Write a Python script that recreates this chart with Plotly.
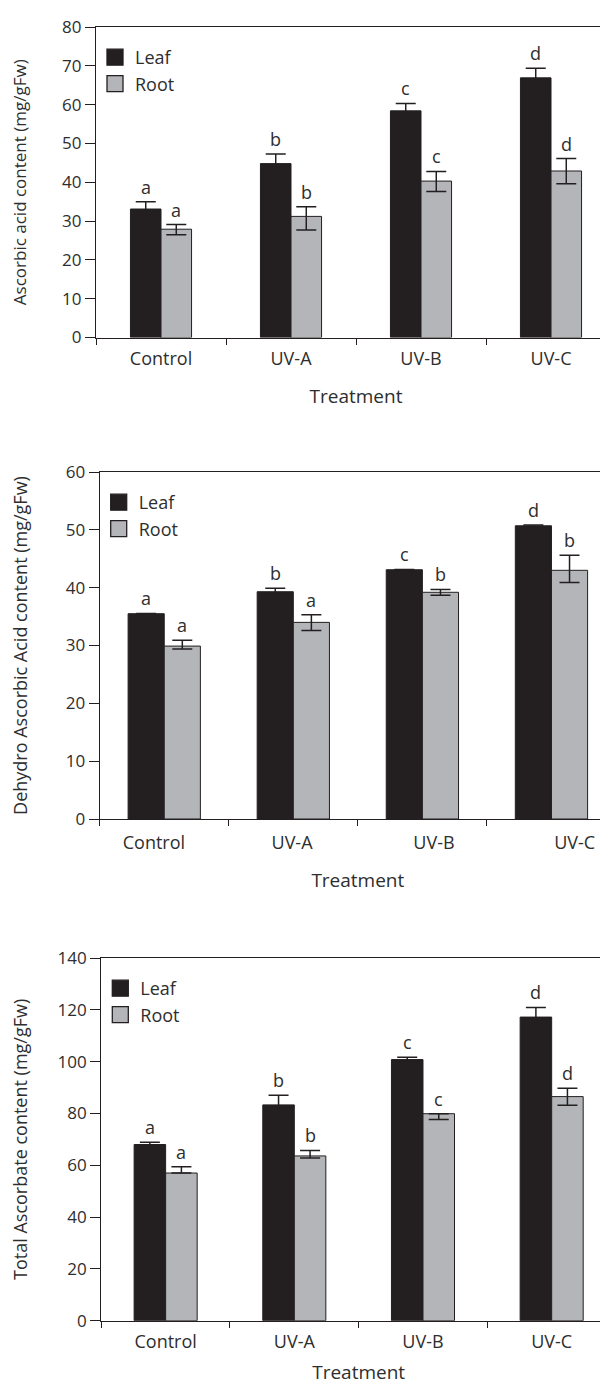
import plotly.graph_objects as go

# ---------------- data ----------------
categories = ["Control", "UV-A", "UV-B", "UV-C"]

# Panel 1: Ascorbic acid
asa_leaf = [33.1, 44.8, 58.4, 66.9]
asa_leaf_err = [1.9, 2.5, 1.9, 2.5]
asa_root = [27.9, 31.2, 40.3, 42.9]
asa_root_err_plus = [1.2, 2.5, 2.5, 3.2]
asa_root_err_minus = [1.4, 3.5, 2.7, 3.3]
asa_leaf_letters = ["a", "b", "c", "d"]
asa_root_letters = ["a", "b", "c", "d"]

# Panel 2: Dehydro ascorbic acid
dha_leaf = [35.5, 39.3, 43.1, 50.7]
dha_leaf_err = [0.05, 0.6, 0.05, 0.15]
dha_root = [29.9, 34.0, 39.2, 43.0]
dha_root_err_plus = [1.0, 1.3, 0.5, 2.6]
dha_root_err_minus = [0.5, 1.4, 0.5, 2.1]
dha_leaf_letters = ["a", "b", "c", "d"]
dha_root_letters = ["a", "a", "b", "b"]

# Panel 3: Total ascorbate
tas_leaf = [68.0, 83.3, 100.8, 117.2]
tas_leaf_err = [0.9, 3.7, 0.9, 3.7]
tas_root = [57.0, 63.6, 79.9, 86.5]
tas_root_err_plus = [2.4, 2.1, 0.0, 3.2]
tas_root_err_minus = [0.0, 0.8, 2.2, 3.3]
tas_leaf_letters = ["a", "b", "c", "d"]
tas_root_letters = ["a", "b", "c", "d"]

# ---------------- style ----------------
W, H = 608, 1387
INK = "#231f20"
TXT = "#2e2e2e"
LEAF = "#231f20"
ROOT = "#b3b5b8"
FONT = "Open Sans"
# in the original, panel 2's category labels sit slightly off the bar centres
panel2_label_pos = [-0.08, 0.99, 2.09, 3.18]

panels = [
    dict(leaf=asa_leaf, leaf_err=asa_leaf_err, root=asa_root,
         rp=asa_root_err_plus, rm=asa_root_err_minus,
         ll=asa_leaf_letters, rl=asa_root_letters,
         ytitle="Ascorbic acid content (mg/gFw)", ymax=80, dtick=10,
         left=88, top=19, bottom=329.5, bw=0.235, tfs=17, tso=33, xso=20),
    dict(leaf=dha_leaf, leaf_err=dha_leaf_err, root=dha_root,
         rp=dha_root_err_plus, rm=dha_root_err_minus,
         ll=dha_leaf_letters, rl=dha_root_letters,
         ytitle="Dehydro Ascorbic Acid content (mg/gFw)", ymax=60, dtick=10,
         left=91.7, top=464, bottom=811, bw=0.28, tfs=18, tso=35, xso=20),
    dict(leaf=tas_leaf, leaf_err=tas_leaf_err, root=tas_root,
         rp=tas_root_err_plus, rm=tas_root_err_minus,
         ll=tas_leaf_letters, rl=tas_root_letters,
         ytitle="Total Ascorbate content (mg/gFw)", ymax=140, dtick=20,
         left=93.3, top=950, bottom=1312.7, bw=0.245, tfs=18, tso=26, xso=13),
]

fig = go.Figure()
annotations = []
layout_axes = {}

for i, p in enumerate(panels):
    n = "" if i == 0 else str(i + 1)
    xa, ya = "x" + n, "y" + n
    leg = "legend" + n
    bw = p["bw"]
    fig.add_trace(go.Bar(
        x=categories, y=p["leaf"], name="Leaf", xaxis=xa, yaxis=ya,
        width=bw, offset=-bw, marker=dict(color=LEAF, line=dict(color=INK, width=1)),
        error_y=dict(type="data", array=p["leaf_err"], color=INK, thickness=1.5, width=10),
        showlegend=False,
    ))
    fig.add_trace(go.Bar(
        x=categories, y=p["root"], name="Root", xaxis=xa, yaxis=ya,
        width=bw, offset=0, marker=dict(color=ROOT, line=dict(color=INK, width=1)),
        error_y=dict(type="data", symmetric=False, array=p["rp"], arrayminus=p["rm"],
                     color=INK, thickness=1.5, width=10),
        showlegend=False,
    ))
    # legend entries with large square swatches
    for nm, col in (("Leaf", LEAF), ("Root", ROOT)):
        fig.add_trace(go.Scatter(
            x=[None], y=[None], mode="markers", name=nm, xaxis=xa, yaxis=ya,
            marker=dict(symbol="square", size=16, color=col, line=dict(color=INK, width=1.3)),
            legend=leg, legendgroup=nm + n, hoverinfo="skip",
        ))

    x0 = p["left"] / W
    y0 = 1 - p["bottom"] / H
    y1 = 1 - p["top"] / H
    px_per_cat = (W - p["left"]) / 4.0

    xdict = dict(
        domain=[x0, 1], anchor=ya, type="category", categoryorder="array",
        categoryarray=categories, range=[-0.5, 3.5],
        showline=True, linecolor=INK, linewidth=1.3, mirror=True,
        ticks="outside", tickson="boundaries", ticklen=6, tickcolor=INK, tickwidth=1.3,
        ticklabelstandoff=5, automargin=False,
        tickfont=dict(family=FONT, size=18, color=TXT),
        title=dict(text="Treatment", font=dict(family=FONT, size=19, color=TXT),
                   standoff=p["xso"]),
        showgrid=False, zeroline=False, fixedrange=True,
    )
    if i == 1:
        xdict["showticklabels"] = False
        xdict["title"] = dict(text="")
    layout_axes["xaxis" + n] = xdict
    layout_axes["yaxis" + n] = dict(
        domain=[y0, y1], anchor=xa, range=[0, p["ymax"]], dtick=p["dtick"],
        showline=True, linecolor=INK, linewidth=1.3, mirror=False,
        ticks="outside", ticklen=10, tickcolor=INK, tickwidth=1.3, automargin=False,
        tickfont=dict(family=FONT, size=17, color=TXT),
        title=dict(text=p["ytitle"], font=dict(family=FONT, size=p["tfs"], color=TXT),
                   standoff=p["tso"]),
        showgrid=False, zeroline=False, fixedrange=True,
    )
    layout_axes[leg] = dict(
        x=(p["left"] - 1) / W, xanchor="left", y=1 - (p["top"] + 12) / H, yanchor="top",
        bgcolor="rgba(0,0,0,0)", font=dict(family=FONT, size=18, color=TXT),
        tracegroupgap=7, itemwidth=30, traceorder="normal",
    )

    for j, c in enumerate(categories):
        annotations.append(dict(
            x=c, y=p["leaf"][j] + p["leaf_err"][j], xref=xa, yref=ya,
            text=p["ll"][j], showarrow=False, yanchor="bottom",
            xshift=-bw * px_per_cat / 2, yshift=1,
            font=dict(family=FONT, size=18, color=TXT),
        ))
        annotations.append(dict(
            x=c, y=p["root"][j] + p["rp"][j], xref=xa, yref=ya,
            text=p["rl"][j], showarrow=False, yanchor="bottom",
            xshift=bw * px_per_cat / 2, yshift=1,
            font=dict(family=FONT, size=18, color=TXT),
        ))

# label axis for panel 2 (category names at their original, slightly uneven spots)
fig.add_trace(go.Scatter(x=[None], y=[None], xaxis="x4", yaxis="y2",
                         showlegend=False, hoverinfo="skip"))
layout_axes["xaxis4"] = dict(
    overlaying="x2", anchor="y2", side="bottom", range=[-0.5, 3.5],
    tickmode="array", tickvals=panel2_label_pos, ticktext=categories,
    ticks="", showline=False, showgrid=False, zeroline=False, automargin=False,
    ticklabelstandoff=11, fixedrange=True,
    tickfont=dict(family=FONT, size=18, color=TXT),
    title=dict(text="Treatment", font=dict(family=FONT, size=19, color=TXT), standoff=20),
)

fig.update_layout(
    width=W, height=H,
    margin=dict(l=0, r=0, t=0, b=0, autoexpand=False),
    paper_bgcolor="white", plot_bgcolor="white",
    barmode="overlay",
    annotations=annotations,
    font=dict(family=FONT, color=TXT),
    **layout_axes,
)

fig.write_html("out.html")
